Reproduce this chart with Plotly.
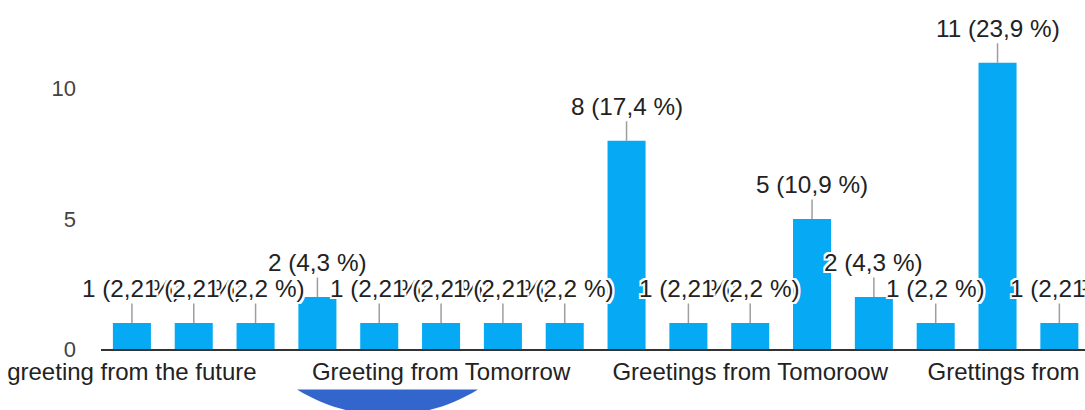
import plotly.graph_objects as go

# ---- data ----
counts = [1, 1, 1, 2, 1, 1, 1, 1, 8, 1, 1, 5, 2, 1, 11, 1, 1]
percents = ["2,2", "2,2", "2,2", "4,3", "2,2", "2,2", "2,2", "2,2",
            "17,4", "2,2", "2,2", "10,9", "4,3", "2,2", "23,9", "2,2", "2,2"]
tick_positions = [0, 5, 10, 15]
tick_labels = ["greeting from the future", "Greeting from Tomorrow",
               "Greetings from Tomoroow", "Grettings from Tomorrow"]
y_ticks = [0, 5, 10]

SPACING = 61.83
ML, MB = 101, 60.5
N = len(counts)
PW = N * SPACING
W, H = int(round(ML + PW)), 410
PH = H - MB
FONT = "Liberation Sans, Arial, sans-serif"

x_idx = list(range(N))

fig = go.Figure()
fig.add_trace(go.Bar(
    x=x_idx, y=counts, width=0.615,
    marker=dict(color="#05a9f4", line=dict(width=0)),
    hoverinfo="skip",
))

halo = ("2px 0px 0px #fff, -2px 0px 0px #fff, 0px 2px 0px #fff, 0px -2px 0px #fff, "
        "2px 2px 0px #fff, -2px -2px 0px #fff, 2px -2px 0px #fff, -2px 2px 0px #fff")
for i, (c, p) in enumerate(zip(counts, percents)):
    fig.add_annotation(
        x=i, y=c, xref="x", yref="y",
        text=f"{c} ({p} %)",
        showarrow=True, arrowhead=0, arrowwidth=1.5, arrowcolor="#9e9e9e",
        ax=0, ay=-34.5, standoff=0,
        font=dict(family=FONT, size=24.3, color="#222222", shadow=halo),
    )

def px2paper(px, py):
    return (px - ML) / (W - ML), (PH - py) / PH

# decorative blue segment at bottom (part of element below chart)
pts = [(297, 390), (352.4, 424.3), (422.6, 424.3), (478, 390)]
pp = [px2paper(*q) for q in pts]
path = (f"M {pp[0][0]},{pp[0][1]} C {pp[1][0]},{pp[1][1]} {pp[2][0]},{pp[2][1]} "
        f"{pp[3][0]},{pp[3][1]} Z")
fig.add_shape(type="path", path=path, xref="paper", yref="paper",
              fillcolor="#3366cc", line=dict(width=0), layer="above")

fig.update_layout(
    width=W, height=H,
    margin=dict(l=ML, r=0, t=0, b=MB, pad=0, autoexpand=False),
    paper_bgcolor="white", plot_bgcolor="white",
    showlegend=False,
    font=dict(family=FONT),
    xaxis=dict(
        range=[-0.5, -0.5 + (W - ML) / SPACING],
        tickmode="array", tickvals=tick_positions, ticktext=tick_labels,
        tickfont=dict(family=FONT, size=24, color="#222222"),
        showgrid=False, zeroline=False,
        showline=True, linecolor="#333333", linewidth=2,
        ticks="", ticklabelstandoff=0, ticklabeloverflow="allow",
        automargin=False, fixedrange=True,
    ),
    yaxis=dict(
        range=[0, PH / 26.06],
        tickmode="array", tickvals=y_ticks,
        tickfont=dict(family=FONT, size=22, color="#444444"),
        showgrid=False, zeroline=False, showline=False,
        ticks="", ticklabelstandoff=24,
        automargin=False, fixedrange=True,
    ),
)

fig.write_html(
    "out.html",
    config={"displayModeBar": False},
    post_script="document.body.style.margin='0';document.body.style.overflow='hidden';",
)
